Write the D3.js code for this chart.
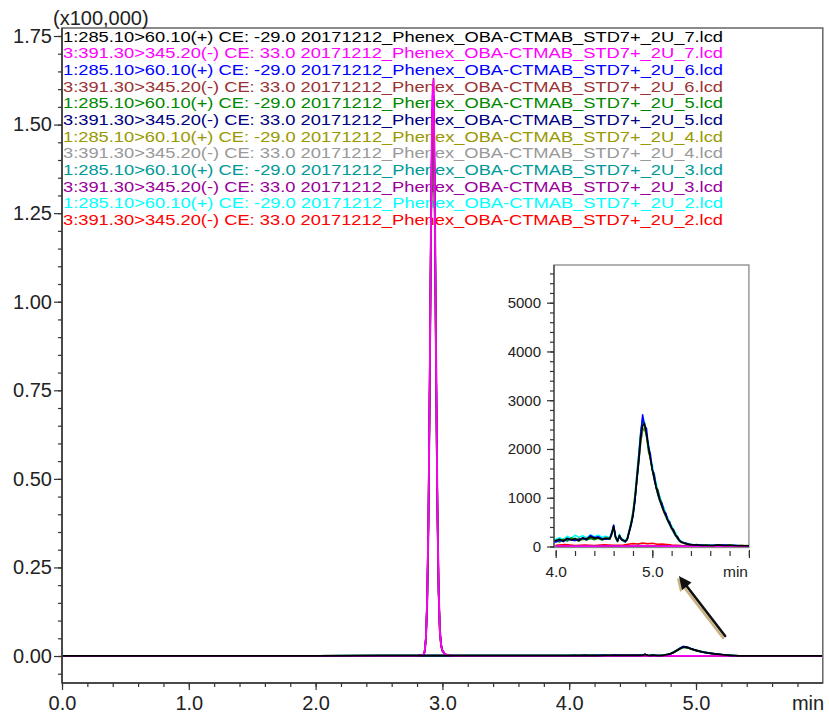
<!DOCTYPE html>
<html><head><meta charset="utf-8">
<script src="https://cdn.jsdelivr.net/npm/d3@7"></script>
<style>body{margin:0;background:#fff}svg{display:block;font-family:"Liberation Sans",Arial,sans-serif}</style>
</head><body><svg id="c" width="829" height="715"></svg>
<script>
// ---------- DATA ----------
// time grid (min) for 285.10>60.10 channel
const t1 = [
  0, 0.5, 1.0, 1.5, 2.0, 2.5, 3.0, 3.5, 3.9, 4.0,
  4.04, 4.08, 4.12, 4.16, 4.20, 4.24, 4.28, 4.32, 4.36, 4.40,
  4.44, 4.48, 4.52, 4.56, 4.58, 4.60, 4.62, 4.64, 4.66, 4.68,
  4.70, 4.72, 4.74, 4.76, 4.78, 4.80, 4.82, 4.84, 4.86, 4.88,
  4.90, 4.92, 4.94, 4.96, 4.98, 5.00, 5.02, 5.04, 5.06, 5.08,
  5.10, 5.12, 5.14, 5.16, 5.18, 5.20, 5.22, 5.24, 5.26, 5.28,
  5.30, 5.34, 5.38, 5.42, 5.46, 5.50, 5.56, 5.62, 5.68, 5.74,
  5.80, 5.86, 5.92, 6.0];
// time grid (min) for 391.30>345.20 channel
const t3 = [
  0, 0.5, 1.0, 1.5, 2.0, 2.5, 2.8, 2.85, 2.86, 2.87,
  2.88, 2.89, 2.90, 2.91, 2.92, 2.93, 2.94, 2.95, 2.96, 2.97,
  2.98, 2.99, 3.00, 3.02, 3.05, 3.1, 3.5, 4.0, 4.1, 4.2,
  4.3, 4.4, 4.5, 4.6, 4.7, 4.75, 4.8, 4.85, 4.9, 4.95,
  5.0, 5.05, 5.1, 5.2, 5.3, 5.4, 5.6, 5.8, 6.0];

// intensities (counts)
const v1_7 = [ // black
  20, 30, 40, 50, 60, 80, 90, 110, 130, 120,
  150, 110, 170, 130, 160, 120, 180, 150, 200, 170,
  180, 150, 170, 160, 260, 420, 200, 110, 230, 140,
  130, 110, 150, 300, 450, 640, 950, 1350, 1750, 2200,
  2480, 2520, 2300, 2050, 1800, 1580, 1380, 1220, 1060, 940,
  820, 720, 630, 540, 460, 380, 310, 240, 180, 120,
  90, 60, 40, 30, 35, 20, 25, 15, 30, 20,
  25, 15, 20, 10];
const v3_7 = [ // magenta
  10, 10, 15, 10, 15, 20, 30, 275, 1350, 5300,
  16400, 40500, 80000, 126000, 158000, 162500, 130000, 84000, 44000, 19000,
  7000, 3000, 1500, 500, 150, 60, 20, 10, 10, 5,
  10, 5, 10, 10, 5, 10, 15, 10, 10, 15,
  10, 10, 5, 10, 5, 5, 10, 5, 5];
const v1_6 = [ // blue
  20, 30, 40, 50, 60, 80, 90, 110, 130, 90,
  130, 100, 160, 140, 120, 150, 170, 140, 230, 180,
  200, 160, 150, 170, 280, 440, 190, 120, 200, 150,
  120, 100, 140, 280, 430, 620, 920, 1380, 1820, 2300,
  2700, 2480, 2420, 2050, 1900, 1580, 1460, 1200, 1110, 930,
  880, 720, 680, 540, 500, 370, 340, 230, 200, 120,
  100, 70, 45, 35, 20, 30, 15, 25, 20, 30,
  15, 25, 10, 15];
const v3_6 = [ // brown
  10, 15, 10, 15, 10, 20, 28, 260, 1280, 5000,
  15600, 38500, 76000, 120000, 150000, 155000, 124000, 80000, 42000, 18000,
  6600, 2850, 1400, 470, 140, 60, 20, 15, 10, 15,
  10, 15, 10, 5, 15, 10, 20, 15, 10, 20,
  15, 10, 10, 5, 10, 5, 10, 5, 10];
const v1_5 = [ // green
  20, 30, 40, 50, 60, 80, 90, 110, 130, 110,
  90, 150, 120, 180, 140, 110, 160, 130, 170, 140,
  170, 130, 160, 150, 240, 380, 170, 100, 210, 160,
  110, 90, 160, 330, 500, 720, 1050, 1480, 1900, 2350,
  2620, 2450, 2280, 1950, 1820, 1560, 1500, 1220, 1160, 970,
  900, 740, 680, 540, 500, 380, 350, 240, 210, 130,
  100, 65, 50, 30, 40, 25, 30, 20, 35, 15,
  30, 20, 15, 20];
const v3_5 = [ // navy
  15, 10, 10, 15, 10, 15, 29, 265, 1310, 5150,
  15900, 39300, 77600, 122000, 153000, 158000, 126000, 81500, 42700, 18400,
  6800, 2900, 1450, 485, 145, 55, 25, 10, 15, 10,
  15, 10, 15, 10, 10, 15, 10, 20, 15, 10,
  15, 10, 15, 10, 5, 10, 5, 10, 5];
const v1_4 = [ // olive
  20, 30, 40, 50, 60, 80, 90, 110, 130, 100,
  140, 120, 150, 160, 130, 170, 140, 160, 190, 150,
  190, 140, 180, 150, 250, 400, 190, 120, 220, 140,
  120, 100, 130, 290, 440, 650, 960, 1370, 1760, 2150,
  2400, 2430, 2250, 2000, 1780, 1560, 1380, 1200, 1050, 930,
  820, 720, 620, 530, 450, 370, 300, 230, 170, 120,
  85, 55, 40, 30, 25, 20, 20, 15, 25, 20,
  20, 15, 20, 10];
const v3_4 = [ // gray
  10, 10, 10, 10, 15, 15, 28, 250, 1240, 4900,
  15100, 37300, 73600, 116000, 145000, 150000, 120000, 77300, 40500, 17500,
  6400, 2760, 1380, 460, 140, 50, 20, 10, 10, 10,
  10, 10, 15, 10, 10, 10, 15, 10, 15, 10,
  10, 10, 10, 5, 10, 5, 5, 10, 5];
const v1_3 = [ // teal
  20, 30, 40, 50, 60, 80, 90, 110, 130, 130,
  120, 140, 110, 150, 170, 130, 150, 170, 160, 190,
  170, 150, 190, 160, 270, 410, 180, 110, 220, 150,
  130, 110, 140, 300, 460, 660, 960, 1340, 1720, 2120,
  2380, 2420, 2280, 2050, 1800, 1570, 1370, 1200, 1040, 920,
  810, 700, 610, 520, 440, 360, 290, 220, 160, 110,
  80, 55, 35, 25, 20, 25, 15, 20, 15, 25,
  20, 10, 15, 10];
const v3_3 = [ // purple
  10, 10, 15, 10, 15, 20, 25, 200, 1000, 4200,
  13500, 35000, 72000, 119000, 155000, 163000, 136000, 90000, 48000, 21000,
  8000, 3400, 1700, 560, 170, 70, 25, 15, 10, 10,
  15, 10, 10, 15, 10, 15, 20, 15, 20, 15,
  10, 15, 10, 10, 5, 10, 5, 10, 5];
const v1_2 = [ // cyan
  20, 30, 40, 50, 60, 80, 90, 110, 130, 150,
  180, 140, 210, 170, 230, 190, 220, 180, 240, 200,
  230, 190, 210, 180, 300, 430, 210, 140, 250, 170,
  140, 120, 170, 320, 480, 700, 1020, 1450, 1880, 2300,
  2560, 2550, 2250, 2120, 1800, 1680, 1420, 1310, 1080, 1020,
  850, 800, 640, 600, 470, 430, 320, 290, 180, 150,
  100, 70, 50, 35, 30, 25, 25, 20, 25, 20,
  20, 15, 15, 10];
const v3_2 = [ // red
  10, 15, 10, 10, 15, 20, 29, 265, 1300, 5100,
  15800, 39100, 77200, 121600, 152500, 157000, 125500, 81000, 42500, 18300,
  6750, 2900, 1450, 480, 145, 55, 30, 25, 40, 20,
  30, 20, 35, 25, 30, 45, 60, 50, 70, 55,
  65, 45, 50, 30, 20, 15, 10, 15, 10];

const legendLabels = [
  "1:285.10>60.10(+) CE: -29.0 20171212_Phenex_OBA-CTMAB_STD7+_2U_7.lcd",
  "3:391.30>345.20(-) CE: 33.0 20171212_Phenex_OBA-CTMAB_STD7+_2U_7.lcd",
  "1:285.10>60.10(+) CE: -29.0 20171212_Phenex_OBA-CTMAB_STD7+_2U_6.lcd",
  "3:391.30>345.20(-) CE: 33.0 20171212_Phenex_OBA-CTMAB_STD7+_2U_6.lcd",
  "1:285.10>60.10(+) CE: -29.0 20171212_Phenex_OBA-CTMAB_STD7+_2U_5.lcd",
  "3:391.30>345.20(-) CE: 33.0 20171212_Phenex_OBA-CTMAB_STD7+_2U_5.lcd",
  "1:285.10>60.10(+) CE: -29.0 20171212_Phenex_OBA-CTMAB_STD7+_2U_4.lcd",
  "3:391.30>345.20(-) CE: 33.0 20171212_Phenex_OBA-CTMAB_STD7+_2U_4.lcd",
  "1:285.10>60.10(+) CE: -29.0 20171212_Phenex_OBA-CTMAB_STD7+_2U_3.lcd",
  "3:391.30>345.20(-) CE: 33.0 20171212_Phenex_OBA-CTMAB_STD7+_2U_3.lcd",
  "1:285.10>60.10(+) CE: -29.0 20171212_Phenex_OBA-CTMAB_STD7+_2U_2.lcd",
  "3:391.30>345.20(-) CE: 33.0 20171212_Phenex_OBA-CTMAB_STD7+_2U_2.lcd"];
const seriesColors = ["#000000","#ff00ff","#0000ff","#993333","#008800","#000080",
                      "#999900","#999999","#009999","#990099","#00ffff","#ff0000"];
const seriesValues = [v1_7, v3_7, v1_6, v3_6, v1_5, v3_5, v1_4, v3_4, v1_3, v3_3, v1_2, v3_2];
const seriesTimes  = [t1, t3, t1, t3, t1, t3, t1, t3, t1, t3, t1, t3];

const yMajorTicks = [0, 25000, 50000, 75000, 100000, 125000, 150000, 175000];
const xMajorTicks = [0, 1, 2, 3, 4, 5];
const insetYTicks = [0, 1000, 2000, 3000, 4000, 5000];
const insetXTicks = [4, 5, 6];
const arrowFrom = [5.23, 5650];   // (min, counts) on main axes
const arrowTo   = [4.865, 22600];

// ---------- CHART ----------
const svg = d3.select("#c");
const ink = "#222";

const x = d3.scaleLinear().domain([0, 5]).range([62, 696]);
const y = d3.scaleLinear().domain([0, 175000]).range([656, 36]);
const pL = 62, pR = x(6), pT = 28, pB = 683;

svg.append("defs").append("clipPath").attr("id", "mainclip")
  .append("rect").attr("x", pL).attr("y", pT).attr("width", pR - pL).attr("height", pB - pT);

// legend (under the traces)
const leg = svg.append("g");
leg.selectAll("text").data(legendLabels).join("text")
  .attr("x", 63).attr("y", (d, i) => 41.7 + i * 16.67)
  .attr("fill", (d, i) => seriesColors[i])
  .attr("font-size", 14.5)
  .attr("textLength", d => 660 * d.length / legendLabels[0].length)
  .attr("lengthAdjust", "spacingAndGlyphs")
  .text(d => d);

// traces main
const gMain = svg.append("g").attr("clip-path", "url(#mainclip)");
const order = d3.range(seriesValues.length).reverse();
order.forEach(i => {
  const pts = seriesValues[i].map((v, k) => [seriesTimes[i][k], v]);
  gMain.append("path").datum(pts)
    .attr("fill", "none").attr("stroke", seriesColors[i])
    .attr("stroke-width", 1.7).attr("stroke-linejoin", "round")
    .attr("d", d3.line().x(d => x(d[0])).y(d => y(d[1])));
});

// frame
svg.append("rect").attr("x", pL).attr("y", pT).attr("width", pR - pL).attr("height", pB - pT)
  .attr("fill", "none").attr("stroke", "#666").attr("stroke-width", 1.5);
svg.append("line").attr("x1", pL).attr("x2", pL).attr("y1", pT).attr("y2", pB).attr("stroke", "#333").attr("stroke-width", 1.5);
svg.append("line").attr("x1", pL).attr("x2", pR).attr("y1", pB).attr("y2", pB).attr("stroke", "#333").attr("stroke-width", 1.5);

function styleAxis(g, fs) {
  g.select(".domain").remove();
  g.selectAll("line").attr("stroke", "#333").attr("stroke-width", 1.2);
  g.selectAll("text").attr("fill", ink).attr("font-size", fs)
    .attr("font-family", '"Liberation Sans",Arial,sans-serif');
}

// y axis main
styleAxis(svg.append("g").attr("transform", `translate(${pL},0)`)
  .call(d3.axisLeft(y).tickValues(d3.range(-5000, 177000, 5000)).tickSize(4).tickFormat("")), 20);
styleAxis(svg.append("g").attr("transform", `translate(${pL},0)`)
  .call(d3.axisLeft(y).tickValues(yMajorTicks).tickSize(8).tickPadding(2)
    .tickFormat(d => (d / 100000).toFixed(2))), 20);
// x axis main
styleAxis(svg.append("g").attr("transform", `translate(0,${pB})`)
  .call(d3.axisBottom(x).tickValues(d3.range(0, 5.9, 0.2)).tickSize(4).tickFormat("")), 20);
styleAxis(svg.append("g").attr("transform", `translate(0,${pB})`)
  .call(d3.axisBottom(x).tickValues(xMajorTicks).tickSize(7).tickPadding(6).tickFormat(d3.format(".1f"))), 20);
svg.append("text").attr("x", 808).attr("y", 710).attr("text-anchor", "middle")
  .attr("font-size", 20).attr("fill", ink).text("min");
svg.append("text").attr("x", 53).attr("y", 25).attr("font-size", 20).attr("fill", ink).text("(x100,000)");

// ---------- INSET ----------
const xi = d3.scaleLinear().domain([4, 5]).range([555.7, 652.3]);
const yi = d3.scaleLinear().domain([0, 5000]).range([546.5, 302.7]);
const iL = 554, iR = xi(6), iT = 265, iB = 547.5;
svg.append("rect").attr("x", iL).attr("y", iT).attr("width", iR - iL).attr("height", iB - iT)
  .attr("fill", "#fff").attr("stroke", "#888").attr("stroke-width", 1.3);
svg.select("defs").append("clipPath").attr("id", "insclip")
  .append("rect").attr("x", iL).attr("y", iT).attr("width", iR - iL).attr("height", iB - iT + 1);
const gIns = svg.append("g").attr("clip-path", "url(#insclip)");
order.forEach(i => {
  const pts = seriesValues[i].map((v, k) => [seriesTimes[i][k], v]).filter(d => d[0] >= 3.9);
  gIns.append("path").datum(pts)
    .attr("fill", "none").attr("stroke", seriesColors[i])
    .attr("stroke-width", 1.5).attr("stroke-linejoin", "round")
    .attr("d", d3.line().x(d => xi(d[0])).y(d => yi(d[1])));
});
svg.append("line").attr("x1", iL).attr("x2", iL).attr("y1", iT).attr("y2", iB).attr("stroke", "#444").attr("stroke-width", 1.3);

styleAxis(svg.append("g").attr("transform", `translate(${iL},0)`)
  .call(d3.axisLeft(yi).tickValues(d3.range(0, 5700, 200)).tickSize(4).tickFormat("")), 15);
styleAxis(svg.append("g").attr("transform", `translate(${iL},0)`)
  .call(d3.axisLeft(yi).tickValues(insetYTicks).tickSize(7).tickPadding(6).tickFormat(d3.format("d"))), 15);
styleAxis(svg.append("g").attr("transform", `translate(0,551)`)
  .call(d3.axisBottom(xi).tickValues(d3.range(4, 6.05, 0.2)).tickSize(5).tickFormat("")), 15.5);
styleAxis(svg.append("g").attr("transform", `translate(0,550)`)
  .call(d3.axisBottom(xi).tickValues(insetXTicks).tickSize(8).tickPadding(7.5)
    .tickFormat(d => d === 6 ? "" : d3.format(".1f")(d))), 15.5);
svg.append("text").attr("x", 735.5).attr("y", 576.5).attr("text-anchor", "middle")
  .attr("font-size", 15.5).attr("fill", ink).text("min");

// ---------- ARROW ----------
function arrow(dx, dy, col) {
  const x0 = x(arrowFrom[0]) + dx, y0 = y(arrowFrom[1]) + dy;
  const x1 = x(arrowTo[0]) + dx, y1 = y(arrowTo[1]) + dy;
  const ang = Math.atan2(y1 - y0, x1 - x0);
  const L = 13, W = 6;
  const bx = x1 - L * Math.cos(ang), by = y1 - L * Math.sin(ang);
  svg.append("line").attr("x1", x0).attr("y1", y0).attr("x2", bx).attr("y2", by)
    .attr("stroke", col).attr("stroke-width", 2.6).attr("stroke-linecap", "round");
  svg.append("path").attr("fill", col).attr("d",
    `M${x1},${y1}L${bx + W * Math.sin(ang)},${by - W * Math.cos(ang)}L${bx - W * Math.sin(ang)},${by + W * Math.cos(ang)}Z`);
}
arrow(-2, 2, "#c9b27e");
arrow(0, 0, "#111");
</script></body></html>
